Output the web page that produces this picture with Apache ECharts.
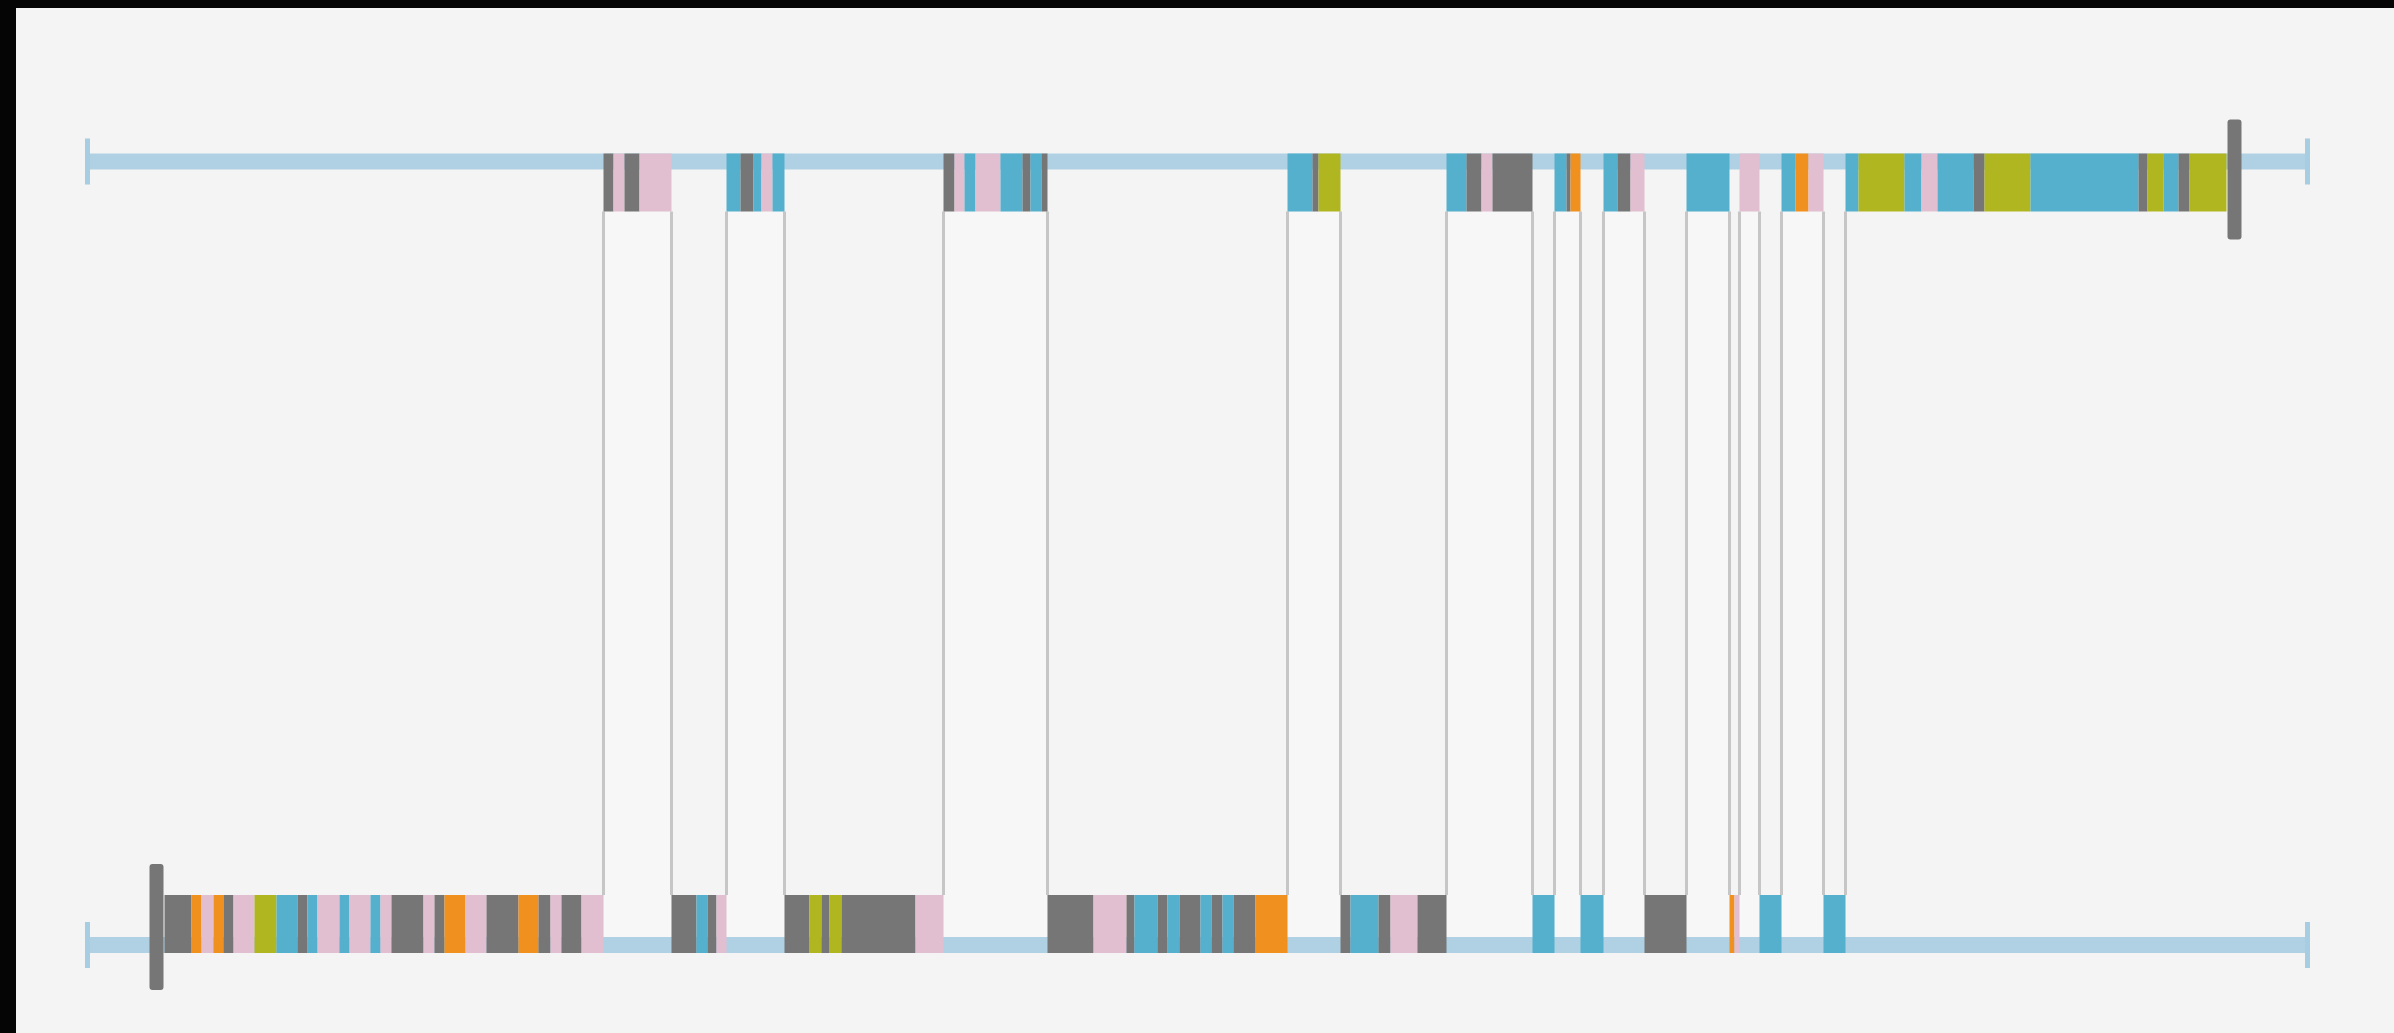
<!DOCTYPE html>
<html>
<head>
<meta charset="utf-8">
<script src="https://cdn.jsdelivr.net/npm/echarts@6/dist/echarts.min.js"></script>
<style>
  html, body { margin: 0; padding: 0; background: #f4f4f4; overflow: hidden; }
  #chart { width: 2394px; height: 1033px; }
</style>
</head>
<body>
<div id="chart"></div>
<script>
// Shared position axis for both tracks
const axisMin = 0;
const axisMax = 2220;

// Segment edges along the axis: segment i spans edges[i] .. edges[i + 1]
const edges = [
  77, 104, 114, 126, 136, 146, 167, 189, 210, 220, 230, 252, 262, 283, 293, 304, 336, 347, 357, 378, 399, 431, 451, 463, 474, 494, 516,
  526, 537, 552, 584,
  609, 620, 629, 639,
  653, 666, 674, 685, 697,
  722, 734, 742, 754, 828, 856,
  867, 877, 888, 913, 935, 943, 954, 960,
  1006, 1039, 1047, 1070, 1080, 1092, 1113, 1124, 1135, 1146, 1168, 1200,
  1225, 1231, 1253,
  1263, 1291, 1303, 1330, 1359,
  1379, 1394, 1405, 1445,
  1467,
  1479, 1483, 1493,
  1516,
  1530, 1543, 1557,
  1599,
  1642,
  1647, 1652,
  1672,
  1694,
  1708, 1721, 1736,
  1758,
  1771, 1817, 1834, 1850, 1886, 1897, 1943, 2051, 2060, 2076, 2091, 2102, 2139
];

// Track of each consecutive run of segments (0 = lower track, 1 = upper track)
const groupLane = [0, 1, 0, 1, 0, 1, 0, 1, 0, 1, 0, 1, 0, 1, 0, 1, 0, 1, 0, 1, 0, 1];

// Segment kinds within each run
const groupKinds = [
  ['G','R','P','R','G','P','O','B','G','B','P','B','P','B','P','G','P','G','R','P','G','R','G','P','G','P'],
  ['G','P','G','P'],
  ['G','B','G','P'],
  ['B','G','B','P','B'],
  ['G','O','G','O','G','P'],
  ['G','P','B','P','B','G','B','G'],
  ['G','P','G','B','G','B','G','B','G','B','G','R'],
  ['B','G','O'],
  ['G','B','G','P','G'],
  ['B','G','P','G'],
  ['B'],
  ['B','G','R'],
  ['B'],
  ['B','G','P'],
  ['G'],
  ['B'],
  ['R','P'],
  ['P'],
  ['B'],
  ['B','R','P'],
  ['B'],
  ['B','O','B','P','B','G','O','B','G','O','B','G','O']
];

// Start of the lower sequence and end of the upper sequence
const lowerStart = 69;
const upperEnd = 2147;

const kindOrder = ['G', 'P', 'B', 'O', 'R'];
const kindColors = ['#767677', '#e2bfd0', '#55b0cd', '#afb620', '#f0901f'];

const TRACK_W = 16;
const BLOCK_H = 58;

// Flatten runs into drawable segments
const segments = [];
const runs = [];
let k = 0;
groupKinds.forEach((list, g) => {
  const lane = groupLane[g];
  const start = edges[k];
  list.forEach(kind => {
    segments.push([edges[k], edges[k + 1], lane, kindOrder.indexOf(kind)]);
    k++;
  });
  runs.push([start, edges[k], lane]);
});
const switches = runs.slice(1).map(r => [r[0], 0.5]);
const bridges = runs.filter((r, i) => r[2] === 1 && i > 0 && i < runs.length - 1);

const chart = echarts.init(document.getElementById('chart'));

chart.setOption({
  animation: false,
  backgroundColor: '#f4f4f4',
  grid: { left: 87.5, top: 161.5, width: 2220, height: 783.5 },
  xAxis: { type: 'value', min: axisMin, max: axisMax, show: false },
  yAxis: { type: 'value', min: 0, max: 1, show: false },
  graphic: [
    { type: 'rect', left: 0, top: 0, z: 100, shape: { width: 16, height: 1033 }, style: { fill: '#050505' } },
    { type: 'rect', left: 0, top: 0, z: 100, shape: { width: 2394, height: 8 }, style: { fill: '#050505' } }
  ],
  series: [
    {
      // pale bands under each upper run, reaching down to the lower track
      type: 'custom', silent: true, z: 1,
      encode: { x: [0, 1], y: 2 },
      data: bridges,
      renderItem(params, api) {
        const a = api.coord([api.value(0), 1]);
        const b = api.coord([api.value(1), 0]);
        const y0 = a[1] - TRACK_W / 2 + BLOCK_H;
        const y1 = b[1] - TRACK_W / 2;
        return { type: 'rect', shape: { x: a[0], y: y0, width: b[0] - a[0], height: y1 - y0 },
                 style: { fill: 'rgba(255,255,255,0.25)' } };
      }
    },
    {
      // vertical links where the sequence changes track
      type: 'custom', silent: true, z: 2,
      encode: { x: 0, y: 1 },
      data: switches,
      renderItem(params, api) {
        const a = api.coord([api.value(0), 1]);
        const b = api.coord([api.value(0), 0]);
        return { type: 'line',
                 shape: { x1: a[0], y1: a[1] - TRACK_W / 2 + BLOCK_H, x2: b[0], y2: b[1] + TRACK_W / 2 - BLOCK_H },
                 style: { stroke: '#c6c6c6', lineWidth: 3 } };
      }
    },
    {
      // the two tracks with their end ticks
      type: 'custom', silent: true, z: 3,
      encode: { x: [0, 1], y: 2 },
      data: [[axisMin, axisMax, 1], [axisMin, axisMax, 0]],
      renderItem(params, api) {
        const lane = api.value(2);
        const a = api.coord([api.value(0), lane]);
        const b = api.coord([api.value(1), lane]);
        return { type: 'group', children: [
          { type: 'rect', shape: { x: a[0], y: a[1] - TRACK_W / 2, width: b[0] - a[0], height: TRACK_W }, style: { fill: '#b0d1e3' } },
          { type: 'rect', shape: { x: a[0] - 2.5, y: a[1] - 23, width: 5, height: 46 }, style: { fill: '#a6cde1' } },
          { type: 'rect', shape: { x: b[0] - 2.5, y: b[1] - 23, width: 5, height: 46 }, style: { fill: '#a6cde1' } }
        ] };
      }
    },
    {
      // coloured segments
      type: 'custom', silent: true, z: 4,
      encode: { x: [0, 1], y: 2 },
      data: segments,
      renderItem(params, api) {
        const lane = api.value(2);
        const a = api.coord([api.value(0), lane]);
        const b = api.coord([api.value(1), lane]);
        const y = lane === 1 ? a[1] - TRACK_W / 2 : a[1] + TRACK_W / 2 - BLOCK_H;
        return { type: 'rect', shape: { x: a[0], y: y, width: b[0] - a[0], height: BLOCK_H },
                 style: { fill: kindColors[api.value(3)] } };
      }
    },
    {
      // sequence start / end markers
      type: 'custom', silent: true, z: 5,
      encode: { x: 0, y: 1 },
      data: [[lowerStart, 0], [upperEnd, 1]],
      renderItem(params, api) {
        const lane = api.value(1);
        const p = api.coord([api.value(0), lane]);
        const up = lane === 1 ? 42 : 81;
        const down = lane === 1 ? 78 : 45;
        return { type: 'rect', shape: { x: p[0] - 7, y: p[1] - up, width: 14, height: up + down, r: 3 },
                 style: { fill: '#767677' } };
      }
    }
  ]
});
</script>
</body>
</html>
